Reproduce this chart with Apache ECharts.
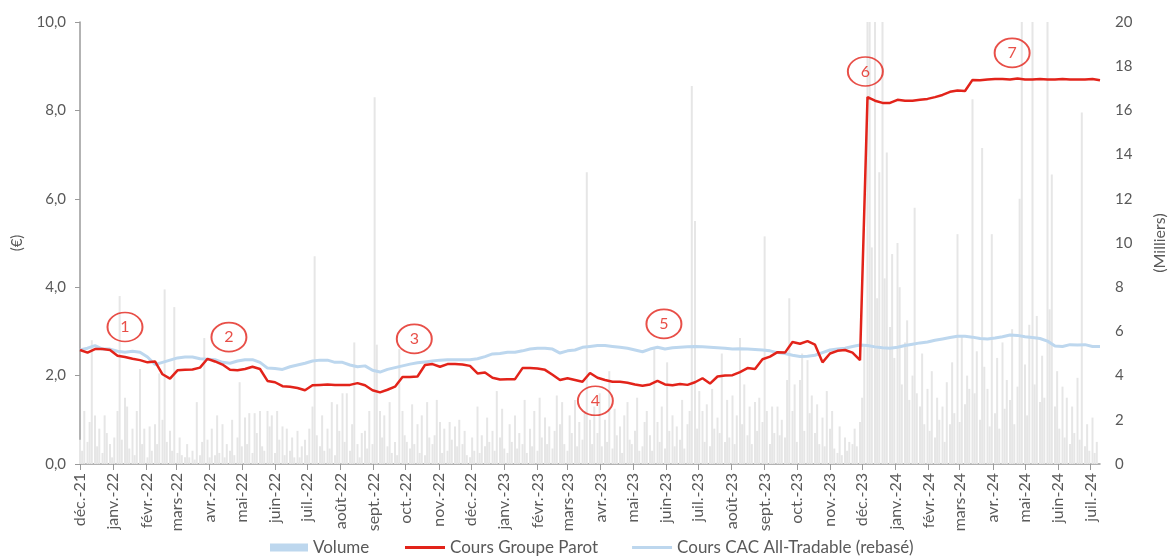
<!DOCTYPE html>
<html lang="fr">
<head>
<meta charset="utf-8">
<title>Groupe Parot – cours et volumes</title>
<script src="https://cdn.jsdelivr.net/npm/echarts@6/dist/echarts.min.js"></script>
<style>
  html, body { margin: 0; padding: 0; background: #fff; }
  #chart { width: 1168px; height: 559px; }
</style>
</head>
<body>
<div id="chart"></div>
<script>
// Cours Groupe Parot vs CAC All-Tradable (rebasé), volumes en milliers.
// Axe X : un jour calendaire par catégorie, du 1er déc. 2021 au 10 juil. 2024.

const START_DAY = Date.UTC(2021, 11, 1)
const DAY_COUNT = 953
const MONTH_LABELS = ["janv.", "févr.", "mars", "avr.", "mai", "juin", "juil.", "août", "sept.", "oct.", "nov.", "déc."]

// one value per week (day 0, 7, 14, ...)
const parotPrices = [
  2.58, 2.52, 2.60, 2.60, 2.58, 2.45, 2.42, 2.38, 2.35, 2.30,
  2.32, 2.03, 1.93, 2.12, 2.13, 2.14, 2.18, 2.38, 2.32, 2.25,
  2.13, 2.12, 2.15, 2.20, 2.15, 1.88, 1.85, 1.76, 1.75, 1.72,
  1.67, 1.78, 1.79, 1.80, 1.79, 1.79, 1.79, 1.83, 1.78, 1.67,
  1.62, 1.68, 1.75, 1.97, 1.97, 1.98, 2.24, 2.26, 2.20, 2.26,
  2.26, 2.25, 2.22, 2.05, 2.07, 1.95, 1.91, 1.92, 1.92, 2.17,
  2.17, 2.16, 2.13, 2.02, 1.90, 1.94, 1.90, 1.86, 2.06, 1.95,
  1.90, 1.86, 1.86, 1.84, 1.80, 1.77, 1.80, 1.88, 1.80, 1.78,
  1.81, 1.79, 1.85, 1.94, 1.82, 1.98, 2.00, 2.01, 2.08, 2.17,
  2.15, 2.37, 2.43, 2.53, 2.52, 2.76, 2.72, 2.78, 2.70, 2.30,
  2.50, 2.56, 2.58, 2.52, 2.35, 8.30, 8.22, 8.17, 8.17, 8.24,
  8.22, 8.22, 8.24, 8.26, 8.30, 8.35, 8.42, 8.45, 8.44, 8.69,
  8.68, 8.70, 8.71, 8.71, 8.70, 8.72, 8.70, 8.70, 8.71, 8.70,
  8.70, 8.71, 8.70, 8.70, 8.70, 8.71, 8.68,
]

const cacPrices = [
  2.58, 2.62, 2.68, 2.60, 2.60, 2.55, 2.53, 2.55, 2.53, 2.42,
  2.25, 2.30, 2.35, 2.40, 2.42, 2.42, 2.38, 2.37, 2.36, 2.30,
  2.28, 2.33, 2.36, 2.36, 2.30, 2.17, 2.16, 2.14, 2.20, 2.24,
  2.28, 2.33, 2.35, 2.35, 2.30, 2.30, 2.24, 2.20, 2.22, 2.12,
  2.08, 2.14, 2.18, 2.22, 2.26, 2.29, 2.31, 2.33, 2.35, 2.36,
  2.36, 2.36, 2.36, 2.38, 2.43, 2.49, 2.50, 2.53, 2.53, 2.56,
  2.60, 2.62, 2.62, 2.60, 2.51, 2.56, 2.58, 2.64, 2.66, 2.68,
  2.68, 2.66, 2.64, 2.62, 2.58, 2.54, 2.60, 2.64, 2.60, 2.63,
  2.64, 2.65, 2.66, 2.65, 2.64, 2.63, 2.62, 2.60, 2.61, 2.60,
  2.59, 2.58, 2.56, 2.52, 2.50, 2.46, 2.43, 2.44, 2.46, 2.52,
  2.58, 2.60, 2.62, 2.66, 2.69, 2.68, 2.65, 2.63, 2.62, 2.64,
  2.68, 2.71, 2.74, 2.76, 2.80, 2.83, 2.86, 2.89, 2.89, 2.87,
  2.84, 2.83, 2.85, 2.88, 2.92, 2.91, 2.88, 2.86, 2.84, 2.78,
  2.67, 2.66, 2.70, 2.69, 2.70, 2.66, 2.66,
]

// three sessions per week (Mon, Wed, Fri), thousands of shares
const VOLUME_OFFSETS = [0, 2, 4]
const volumes = [
  1.1, 0.6, 2.4,  1.0, 1.9, 5.6,  2.2, 0.8, 1.6,  0.5, 2.2, 1.4,  0.9, 0.3, 1.2,
  2.4, 7.6, 1.1,  3.0, 2.6, 0.7,  1.6, 0.4, 2.4,  4.3, 0.9, 1.6,  0.3, 1.7, 0.6,
  1.8, 0.9, 4.1,  2.0, 7.9, 1.0,  1.5, 0.6, 7.1,  0.5, 1.2, 0.4,  0.3, 0.9, 0.3,
  0.6, 0.2, 2.8,  0.4, 1.0, 5.7,  1.1, 0.3, 1.6,  0.4, 2.2, 0.5,  1.8, 0.3, 0.9,
  0.6, 2.0, 0.4,  1.2, 3.7, 0.8,  2.1, 0.9, 2.3,  0.5, 2.3, 1.4,  2.4, 0.8, 0.6,
  2.4, 1.7, 2.2,  0.5, 2.4, 1.1,  1.7, 0.4, 1.6,  0.6, 1.2, 0.3,  1.5, 0.3, 0.8,
  1.1, 0.4, 1.6,  2.6, 9.4, 1.3,  0.8, 2.2, 0.6,  1.6, 0.7, 2.8,  0.4, 2.7, 1.5,
  3.2, 1.0, 3.2,  0.6, 1.8, 5.5,  0.9, 0.3, 1.4,  1.5, 0.7, 2.4,  0.9, 16.6, 5.4,
  2.4, 1.2, 2.2,  0.8, 2.8, 0.5,  1.0, 0.4, 5.2,  2.4, 1.3, 1.0,  0.7, 2.7, 0.9,
  1.8, 0.5, 2.2,  0.4, 2.8, 1.2,  0.9, 1.3, 2.9,  1.9, 0.5, 1.6,  0.6, 1.9, 1.1,
  1.7, 0.8, 2.0,  0.9, 1.5, 0.4,  0.3, 1.2, 0.6,  2.6, 0.5, 1.3,  0.8, 2.1, 1.0,
  1.5, 0.6, 3.3,  1.2, 2.5, 0.7,  0.5, 1.8, 1.0,  2.2, 0.7, 1.4,  0.9, 2.9, 0.5,
  1.6, 0.8, 2.4,  0.6, 3.0, 1.2,  2.1, 0.9, 1.7,  0.7, 1.5, 3.1,  1.8, 2.8, 0.9,
  0.6, 2.2, 1.4,  2.9, 0.8, 1.9,  1.1, 2.4, 13.2, 2.0, 0.9, 2.6,  1.4, 3.2, 0.8,
  2.0, 1.0, 4.2,  0.7, 2.5, 1.3,  1.7, 0.5, 2.2,  2.8, 1.1, 0.9,  1.5, 3.0, 0.6,
  0.8, 1.9, 2.4,  1.3, 0.6, 5.2,  1.9, 1.0, 2.6,  0.7, 4.6, 1.5,  2.2, 0.8, 1.7,
  1.1, 2.9, 0.7,  1.8, 2.4, 17.1, 11.0, 1.6, 3.3, 2.4, 1.0, 2.7,  0.8, 3.4, 1.6,
  2.1, 1.4, 5.0,  1.0, 2.9, 1.2,  3.1, 0.9, 2.2,  5.7, 1.8, 3.6,  1.3, 2.6, 0.9,
  2.8, 1.5, 3.0,  1.9, 10.3, 2.4, 0.9, 2.6, 1.4,  2.6, 1.3, 2.0,  1.2, 3.8, 7.5,
  2.4, 3.6, 1.0,  3.8, 5.0, 1.5,  4.7, 2.3, 3.1,  1.4, 2.7, 0.9,  2.1, 0.8, 3.3,
  1.6, 2.4, 0.7,  0.5, 1.7, 0.4,  1.2, 0.6, 1.0,  0.9, 1.6, 0.8,  1.9, 3.0, 5.4,
  25, 25, 9.8,    25, 7.5, 13.2,  25, 8.4, 14.1,  6.2, 9.5, 4.8,  10.0, 8.0, 3.6,
  5.5, 6.5, 2.9,  4.0, 11.6, 3.2, 2.6, 5.0, 1.8,  3.4, 1.5, 4.2,  1.2, 3.0, 2.0,
  2.6, 1.0, 3.7,  1.8, 4.6, 2.3,  10.4, 1.9, 5.8, 2.7, 4.0, 3.4,  16.5, 3.2, 5.1,
  2.0, 14.3, 4.4, 3.4, 1.7, 10.4, 2.3, 4.8, 1.6,  5.5, 2.5, 3.8,  2.9, 6.1, 1.8,
  3.5, 12.0, 25,  4.5, 2.2, 6.3,  25, 3.6, 6.7,   2.8, 4.9, 3.0,  25, 7.0, 13.1,
  2.6, 4.2, 1.6,  3.5, 1.2, 3.0,  0.9, 2.6, 1.4,  3.9, 1.1, 15.9, 0.8, 1.8, 0.6,
  2.1, 0.5, 1.0,
]

// circled event markers
const eventLabels = ["1", "2", "3", "4", "5", "6", "7"]
const eventDates = ["2022-01-12", "2022-04-19", "2022-10-09", "2023-03-27", "2023-05-30", "2023-12-04", "2024-04-19"]
const eventLevels = [3.10, 2.87, 2.83, 1.43, 3.17, 8.88, 9.30]

const RED = "#E2231A"
const BLUE = "#BDD7EE"
const GREY_BAR = "#E6E6E6"
const TEXT = "#595959"
const AXIS = "#9A9A9A"
const FONT = "Lato, 'Open Sans', sans-serif"

function dayKey(d) {
  return new Date(START_DAY + d * 86400000).toISOString().slice(0, 10)
}

function isMonthStart(index, value) {
  return value.endsWith("-01")
}

function monthLabel(value) {
  const [y, m] = value.split("-")
  return `${MONTH_LABELS[+m - 1]}-${y.slice(2)}`
}

const days = Array.from({length: DAY_COUNT}, (_, d) => dayKey(d))
const weekly = values => values.map((v, i) => [dayKey(i * 7), v])
const volumeData = volumes.map((v, k) => [dayKey(Math.floor(k / 3) * 7 + VOLUME_OFFSETS[k % 3]), v])
const eventData = eventLabels.map((name, i) => ({name, value: [eventDates[i], eventLevels[i]]}))

const legendText = {color: TEXT, fontSize: 17, fontFamily: FONT}

const option = {
  animation: false,
  backgroundColor: "#fff",
  textStyle: {fontFamily: FONT},
  grid: {left: 80, right: 68, top: 22, bottom: 95, outerBoundsMode: "none"},
  legend: [
    {
      left: 270,
      top: 539,
      padding: 0,
      icon: "rect",
      itemWidth: 38,
      itemHeight: 8,
      textStyle: legendText,
      data: [{name: "Volume", itemStyle: {color: BLUE}}],
    },
    {
      left: 405,
      top: 539,
      padding: 0,
      icon: "rect",
      itemWidth: 40,
      itemHeight: 3,
      itemGap: 34,
      textStyle: legendText,
      data: ["Cours Groupe Parot", "Cours CAC All-Tradable (rebasé)"],
    },
  ],
  xAxis: {
    type: "category",
    data: days,
    boundaryGap: false,
    axisLine: {lineStyle: {color: AXIS, width: 1.5}},
    axisTick: {interval: isMonthStart, length: 6, lineStyle: {color: AXIS}},
    axisLabel: {
      interval: isMonthStart,
      rotate: 90,
      margin: 9,
      color: TEXT,
      fontSize: 16,
      formatter: monthLabel,
    },
    splitLine: {show: false},
  },
  yAxis: [
    {
      type: "value",
      min: 0,
      max: 10,
      interval: 2,
      name: "(€)",
      nameLocation: "middle",
      nameRotate: 90,
      nameGap: 55,
      nameTextStyle: {color: TEXT, fontSize: 15},
      axisLine: {show: true, lineStyle: {color: AXIS, width: 1.5}},
      axisTick: {show: true, length: 5, lineStyle: {color: AXIS}},
      axisLabel: {
        color: TEXT,
        fontSize: 15,
        margin: 14,
        formatter: v => v.toFixed(1).replace(".", ","),
      },
      splitLine: {show: false},
    },
    {
      type: "value",
      min: 0,
      max: 20,
      interval: 2,
      name: "(Milliers)",
      nameLocation: "middle",
      nameRotate: 90,
      nameGap: 52,
      nameTextStyle: {color: TEXT, fontSize: 16},
      axisLine: {show: false},
      axisTick: {show: false},
      axisLabel: {color: TEXT, fontSize: 15, margin: 15},
      splitLine: {show: false},
    },
  ],
  series: [
    {
      name: "Volume",
      type: "bar",
      yAxisIndex: 1,
      data: volumeData,
      barWidth: 2,
      itemStyle: {color: GREY_BAR},
      z: 1,
    },
    {
      name: "Cours CAC All-Tradable (rebasé)",
      type: "line",
      data: weekly(cacPrices),
      symbol: "none",
      lineStyle: {color: BLUE, width: 3},
      itemStyle: {color: BLUE},
      z: 2,
    },
    {
      name: "Cours Groupe Parot",
      type: "line",
      data: weekly(parotPrices),
      symbol: "none",
      lineStyle: {color: RED, width: 2.5},
      itemStyle: {color: RED},
      z: 3,
    },
    {
      name: "events",
      type: "scatter",
      data: eventData,
      symbol: "circle",
      symbolSize: [35, 29],
      itemStyle: {color: "rgba(255,255,255,0)", borderColor: RED, borderWidth: 1.8},
      label: {
        show: true,
        position: "inside",
        formatter: p => p.name,
        color: RED,
        fontSize: 16,
        fontFamily: FONT,
      },
      silent: true,
      z: 4,
    },
  ],
}

const chart = echarts.init(document.getElementById("chart"), null, {renderer: "canvas"})
chart.setOption(option)
</script>
</body>
</html>
